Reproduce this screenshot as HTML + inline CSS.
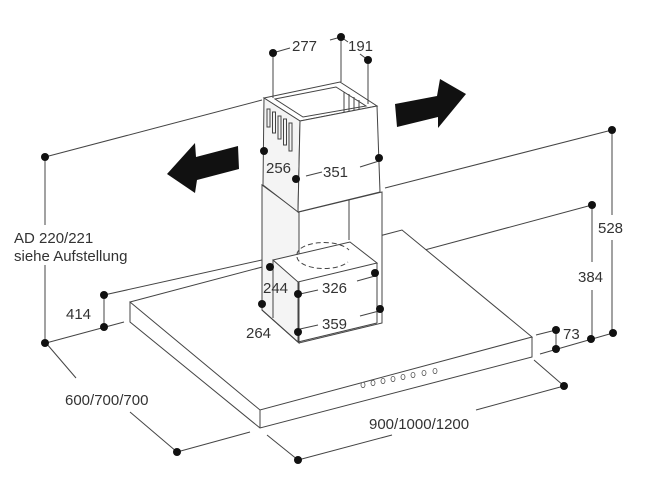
<!DOCTYPE html>
<html><head><meta charset="utf-8"><style>
html,body{margin:0;padding:0;background:#fff;}
svg{display:block;}
text{font-family:"Liberation Sans",sans-serif;font-size:15px;fill:#333;}
</style></head><body>
<svg width="651" height="496" viewBox="0 0 651 496" xmlns="http://www.w3.org/2000/svg">
<g stroke="#444" stroke-width="1" fill="none">
<line x1="45" y1="157" x2="262" y2="100"/>
<line x1="45" y1="157" x2="45" y2="225"/>
<line x1="45" y1="265" x2="45" y2="343"/>
<line x1="612" y1="130" x2="385" y2="188"/>
<line x1="612" y1="130" x2="612" y2="215"/>
<line x1="612" y1="240" x2="612" y2="333"/>
<line x1="592" y1="205" x2="380" y2="262"/>
<line x1="592" y1="205" x2="592" y2="262"/>
<line x1="592" y1="290" x2="592" y2="339"/>
<line x1="271" y1="258" x2="104" y2="295"/>
<line x1="104" y1="295" x2="104" y2="327"/>
<line x1="46" y1="343" x2="124" y2="322"/>
<line x1="536" y1="335" x2="556" y2="330"/>
<line x1="540" y1="354" x2="613" y2="333"/>
<line x1="556" y1="330" x2="556" y2="349"/>
<line x1="534" y1="360" x2="564" y2="386"/>
<line x1="564" y1="386" x2="476" y2="410"/>
<line x1="392" y1="435" x2="298" y2="460"/>
<line x1="267" y1="435" x2="298" y2="460"/>
<line x1="46" y1="343" x2="76" y2="378"/>
<line x1="130" y1="412" x2="177" y2="452"/>
<line x1="177" y1="452" x2="250" y2="432"/>
<polygon points="130,302 402,230 532,337 260,410" fill="#fff"/>
<polyline points="130,302 130,322 260,428 532,357 532,337"/>
<line x1="260" y1="410" x2="260" y2="428"/>
<polygon points="262,185 299,212 382,192 382,323 299,343 262,310" fill="#fff"/>
<polygon points="262,185 299,212 299,343 262,310" fill="#f4f4f4"/>
<line x1="349" y1="200" x2="349" y2="240"/>
<polygon points="273,260 350,242 377,263 298,282" fill="#fff"/>
<polyline points="273,260 273,318"/>
<line x1="298" y1="282" x2="298" y2="342"/>
<line x1="377" y1="263" x2="377" y2="323"/>
<line x1="298" y1="342" x2="377" y2="323"/>
<line x1="262" y1="310" x2="298" y2="342"/>
<path d="M297,255 A27,12 0 0 1 349,250" stroke-dasharray="5,3"/>
<path d="M297,257 A27,12 0 0 0 348,262" stroke-dasharray="5,3"/>
<polygon points="264,98 340,82 377,106 300,121" fill="#fff"/>
<polygon points="275,99 336,87 366,106 303,117" fill="#fff"/>
<polygon points="264,98 300,121 298,212 263,185" fill="#f4f4f4"/>
<polygon points="300,121 377,106 380,192 298,212" fill="#fff"/>
<line x1="344" y1="92" x2="344" y2="112"/>
<line x1="349" y1="94" x2="349" y2="111"/>
<line x1="354" y1="97" x2="354" y2="110"/>
<line x1="359" y1="100" x2="359" y2="109"/>
<rect x="267" y="109" width="3" height="18"/>
<rect x="272.5" y="112" width="3" height="21"/>
<rect x="278" y="116" width="3" height="23"/>
<rect x="283.5" y="119" width="3" height="26"/>
<rect x="289" y="123" width="3" height="28"/>
<line x1="273" y1="53" x2="273" y2="98"/>
<line x1="341" y1="37" x2="341" y2="82"/>
<line x1="368" y1="60" x2="368" y2="104"/>
<line x1="276" y1="52" x2="290" y2="48"/>
<line x1="330" y1="40" x2="341" y2="37"/>
<line x1="341" y1="37" x2="348" y2="42"/>
<line x1="360" y1="54" x2="368" y2="60"/>
<line x1="306" y1="176" x2="322" y2="172"/>
<line x1="360" y1="167" x2="379" y2="161"/>
<line x1="300" y1="294" x2="318" y2="290"/>
<line x1="357" y1="281" x2="375" y2="276"/>
<line x1="300" y1="329" x2="318" y2="325"/>
<line x1="360" y1="316" x2="379" y2="311"/>
</g>
<g stroke="#555" fill="#fff" stroke-width="0.8">
<ellipse cx="363" cy="385" rx="2" ry="2.6"/><ellipse cx="373" cy="383" rx="2" ry="2.6"/>
<ellipse cx="383" cy="381" rx="2" ry="2.6"/><ellipse cx="393" cy="379" rx="2" ry="2.6"/>
<ellipse cx="403" cy="377" rx="2" ry="2.6"/><ellipse cx="413" cy="375" rx="2" ry="2.6"/>
<ellipse cx="424" cy="373" rx="2" ry="2.6"/><ellipse cx="435" cy="371" rx="2" ry="2.6"/>
</g>
<polygon points="167,174 195,143 196,157 238,146 239,169 197,180 195,193" fill="#111"/>
<polygon points="395,104 437,96 440,79 466,94 438,128 438,117 397,127" fill="#111"/>
<g fill="#111">
<circle cx="273" cy="53" r="4"/><circle cx="341" cy="37" r="4"/><circle cx="368" cy="60" r="4"/>
<circle cx="264" cy="151" r="4"/><circle cx="296" cy="179" r="4"/><circle cx="379" cy="158" r="4"/>
<circle cx="45" cy="157" r="4"/><circle cx="45" cy="343" r="4"/>
<circle cx="612" cy="130" r="4"/><circle cx="613" cy="333" r="4"/>
<circle cx="592" cy="205" r="4"/><circle cx="591" cy="339" r="4"/>
<circle cx="104" cy="295" r="4"/><circle cx="104" cy="327" r="4"/>
<circle cx="556" cy="330" r="4"/><circle cx="556" cy="349" r="4"/>
<circle cx="564" cy="386" r="4"/><circle cx="298" cy="460" r="4"/><circle cx="177" cy="452" r="4"/>
<circle cx="270" cy="267" r="4"/><circle cx="298" cy="294" r="4"/><circle cx="375" cy="273" r="4"/>
<circle cx="262" cy="304" r="4"/><circle cx="298" cy="332" r="4"/><circle cx="380" cy="309" r="4"/>
</g>
<text x="292" y="51">277</text>
<text x="348" y="51">191</text>
<text x="266" y="173">256</text>
<text x="323" y="177">351</text>
<text x="263" y="293">244</text>
<text x="322" y="293">326</text>
<text x="246" y="338">264</text>
<text x="322" y="329">359</text>
<text x="14" y="243">AD 220/221</text>
<text x="14" y="261">siehe Aufstellung</text>
<text x="66" y="319">414</text>
<text x="598" y="233">528</text>
<text x="578" y="282">384</text>
<text x="563" y="339">73</text>
<text x="65" y="405">600/700/700</text>
<text x="369" y="429">900/1000/1200</text>
</svg>
</body></html>
